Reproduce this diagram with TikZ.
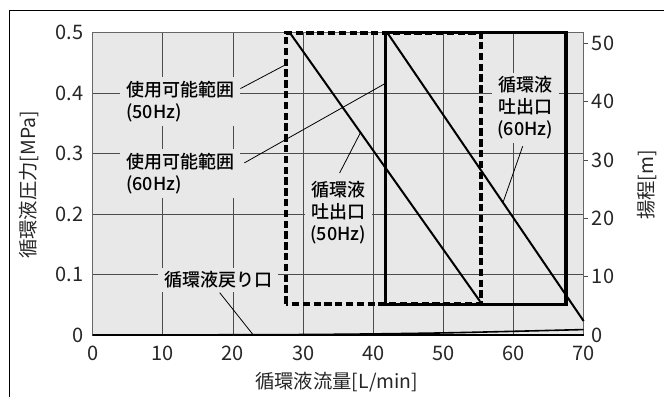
\documentclass[tikz,border=0pt]{standalone}
\usepackage{fontspec}
\setmainfont{Noto Sans CJK JP}[BoldFont={Noto Sans CJK JP Medium}]
\begin{document}
\begin{tikzpicture}[x=5.2605pt,y=453.45pt]
        \tikzstyle{gridln} = [draw=black!70,line width=.6pt]
        \tikzstyle{ticklbl} = [text=black!85,inner sep=0pt,font=\fontsize{15}{17}\selectfont]
        \tikzstyle{axtitle} = [text=black!85,inner sep=0pt,font=\fontsize{14.5}{16}\selectfont]
        \tikzstyle{note} = [fill=black!9,text=black,inner xsep=4.5pt,inner ysep=3pt,font=\fontsize{13.5}{16.5}\selectfont\bfseries]
        \tikzstyle{leader} = [draw=black,line width=.6pt]
        \tikzstyle{pumpln} = [draw=black,line width=1.5pt]
        \tikzstyle{dashbox} = [draw=black,line width=3pt,dash pattern=on 5.5pt off 2.6pt]
        \tikzstyle{solidbox} = [draw=black,line width=2.5pt]
        \useasboundingbox (-13.216,-0.10255) rectangle (81.45,0.55409);
        % frame
        \draw[line width=.8pt] (-11.89,-0.10255) -- (-11.89,0.5364) -- (81.45,0.5364);
        % plot area
        \fill[black!9] (0,0) rectangle (70,0.5);
        \foreach \x in {10,20,...,60} \draw[gridln] (\x,0) -- (\x,0.5);
        \foreach \y in {0.1,0.2,0.3,0.4} \draw[gridln] (0,\y) -- (70,\y);
        \draw[draw=black!60,line width=.6pt] (0,0) rectangle (70,0.5);
        \foreach \m in {10,20,...,50} \draw[gridln] (70,\m*0.009643) -- (70.55,\m*0.009643);
        % scales
        \foreach \y [count=\i] in {0,0.1,0.2,0.3,0.4,0.5} \node[ticklbl,anchor=east] (yt\i) at (-1.31,\y) {\y};
        \foreach \x in {0,10,...,70} \node[ticklbl] (xt\x) at (\x,-0.0298) {\x};
        \foreach \m in {0,10,...,50} \node[ticklbl,anchor=west] (mt\m) at (71.14,\m*0.009643) {\m};
        \node[axtitle] (xtitle) at (34.79,-0.0772) {循環液流量[L/min]};
        \node[axtitle,rotate=90] (ytitle) at (-9.08,0.2481) {循環液圧力[MPa]};
        \node[axtitle,rotate=90] (mtitle) at (78.98,0.2481) {揚程[m]};
        % labels
        \node[note,align=left] (range50) at (12.47,0.3855) {使用可能範囲\\(50Hz)};
        \node[note,align=left] (range60) at (12.47,0.2671) {使用可能範囲\\(60Hz)};
        \node[note,align=center] (out50) at (35.01,0.2023) {循環液\\吐出口\\(50Hz)};
        \node[note,align=center] (out60) at (61.68,0.3755) {循環液\\吐出口\\(60Hz)};
        \node[note] (ret) at (17.91,0.0910) {循環液戻り口};
        % ranges and curves
        \draw[dashbox] (27.5,0.052) rectangle (55.3,0.5);
        \draw[solidbox] (41.7,0.05) rectangle (67.5,0.5);
        \draw[pumpln] (28.1,0.5) -- coordinate[pos=0.372] (p50) (55.2,0.056);
        \draw[pumpln] (42,0.5) -- coordinate[pos=0.589] (p60) (70,0.023);
        \draw[line width=1.2pt] (0,0) -- (70,0);
        \draw[line width=1.2pt] plot[smooth] coordinates {(0,0) (30,0.0008) (50,0.0035) (70,0.009)};
        \coordinate (e50) at (27.5,0.447);
        \coordinate (e60) at (41.7,0.416);
        \coordinate (r0) at (22.9,0);
        \draw[leader] ([yshift=10pt]range50.east) -- (e50);
        \draw[leader] ([xshift=3pt,yshift=8pt]range60.east) -- (e60);
        \draw[leader] ([xshift=1pt,yshift=3pt]out50.north) -- (p50);
        \draw[leader] ([xshift=-2pt,yshift=-2pt]out60.south) -- (p60);
        \draw[leader] ([xshift=1pt]ret.south) -- (r0);
        %\draw[leader] (ret) to[out=270,in=120] (r0);
\end{tikzpicture}
\end{document}
